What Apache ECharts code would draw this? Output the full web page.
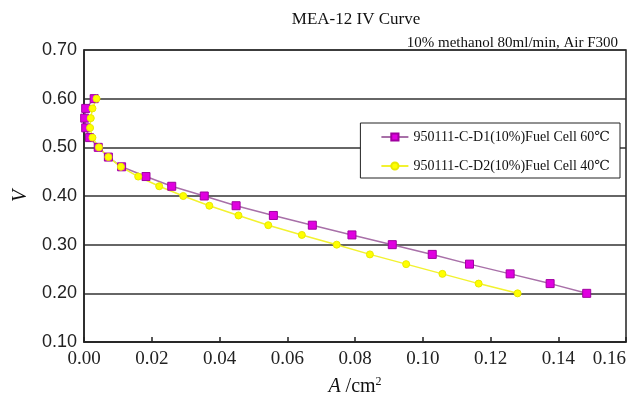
<!DOCTYPE html>
<html>
<head>
<meta charset="utf-8">
<script src="https://cdn.jsdelivr.net/npm/echarts@6/dist/echarts.min.js"></script>
<style>
  html, body { margin: 0; padding: 0; background: #fff; }
  #chart { width: 643px; height: 402px; }
</style>
</head>
<body>
<div id="chart"></div>
<script>
// Cell voltage steps (V) shared by both polarization scans
const voltage = [0.60, 0.58, 0.56, 0.54, 0.52, 0.50, 0.48, 0.46, 0.44, 0.42, 0.40,
                 0.38, 0.36, 0.34, 0.32, 0.30, 0.28, 0.26, 0.24, 0.22, 0.20];
// Current density (A/cm2) at 60 °C
const current60 = [0.0030, 0.0005, 0.0002, 0.0005, 0.0016, 0.0042, 0.0072, 0.0111, 0.0183, 0.0259, 0.0355,
                   0.0449, 0.0559, 0.0674, 0.0791, 0.0910, 0.1028, 0.1138, 0.1258, 0.1376, 0.1484];
// Current density (A/cm2) at 40 °C
const current40 = [0.0037, 0.0025, 0.0020, 0.0018, 0.0025, 0.0044, 0.0072, 0.0109, 0.0160, 0.0222, 0.0293,
                   0.0370, 0.0456, 0.0544, 0.0643, 0.0746, 0.0844, 0.0951, 0.1058, 0.1165, 0.1280];
const seriesNames = ['950111-C-D1(10%)Fuel Cell 60\u2103', '950111-C-D2(10%)Fuel Cell 40\u2103'];
const titleText = 'MEA-12 IV Curve';
const conditionText = '10% methanol 80ml/min, Air F300';

const pairs = (xs, ys) => xs.map((x, i) => [x, ys[i]]);
const serif = '"Liberation Serif", "DejaVu Serif", serif';
const sans = '"Liberation Sans", Arial, sans-serif';

const chart = echarts.init(document.getElementById('chart'));
chart.setOption({
  animation: false,
  backgroundColor: '#fff',
  title: [
    { text: titleText, left: 351, top: 6, textAlign: 'center',
      textStyle: { fontFamily: serif, fontSize: 17, fontWeight: 'normal', color: '#111' } },
    { text: conditionText, right: 20, top: 31,
      textStyle: { fontFamily: serif, fontSize: 15, fontWeight: 'normal', color: '#111' } }
  ],
  grid: { left: 84, right: 17, top: 50, bottom: 60, show: true, outerBoundsMode: 'none',
          borderColor: '#222', borderWidth: 1.5, backgroundColor: 'transparent' },
  legend: {
    orient: 'vertical', right: 23, top: 123, z: 10,
    backgroundColor: '#fff', borderColor: '#222', borderWidth: 1,
    padding: [7, 10, 5, 20], itemGap: 15, itemWidth: 27, itemHeight: 9,
    textStyle: { fontFamily: serif, fontSize: 14, color: '#111' },
    data: seriesNames
  },
  xAxis: {
    type: 'value', min: 0, max: 0.16, interval: 0.02,
    name: '{a|A}{b| /cm}{c|2}', nameLocation: 'middle', nameGap: 34,
    nameTextStyle: { rich: {
      a: { fontFamily: serif, fontStyle: 'italic', fontSize: 20, color: '#111' },
      b: { fontFamily: serif, fontSize: 20, color: '#111' },
      c: { fontFamily: serif, fontSize: 12, color: '#111', verticalAlign: 'top', padding: [0, 0, 10, 0] } } },
    axisLine: { lineStyle: { color: '#222', width: 1.5 } },
    axisTick: { inside: true, length: 5, lineStyle: { color: '#222', width: 1.5 } },
    axisLabel: { formatter: v => v.toFixed(2), fontFamily: serif, fontSize: 19, color: '#222',
                 margin: 8, alignMaxLabel: 'right' },
    splitLine: { show: false }
  },
  yAxis: {
    type: 'value', min: 0.1, max: 0.7, interval: 0.1,
    name: 'V', nameLocation: 'middle', nameGap: 52, nameRotate: 90,
    nameTextStyle: { fontFamily: serif, fontStyle: 'italic', fontSize: 20, color: '#111' },
    axisLine: { show: true, lineStyle: { color: '#222', width: 1.5 } },
    axisTick: { show: false },
    axisLabel: { formatter: v => v.toFixed(2), fontFamily: sans, fontSize: 18, color: '#222', margin: 7 },
    splitLine: { lineStyle: { color: '#333', width: 1.5 } }
  },
  series: [
    {
      name: seriesNames[0], type: 'line', data: pairs(current60, voltage),
      symbol: 'rect', symbolSize: 8,
      lineStyle: { color: '#a870a8', width: 1.5 },
      itemStyle: { color: '#e000e0', borderColor: '#a000a0', borderWidth: 1 }
    },
    {
      name: seriesNames[1], type: 'line', data: pairs(current40, voltage),
      symbol: 'circle', symbolSize: 7,
      lineStyle: { color: '#f2f230', width: 1.5 },
      itemStyle: { color: '#ffff00', borderColor: '#e8e800', borderWidth: 1 }
    }
  ]
});
</script>
</body>
</html>
